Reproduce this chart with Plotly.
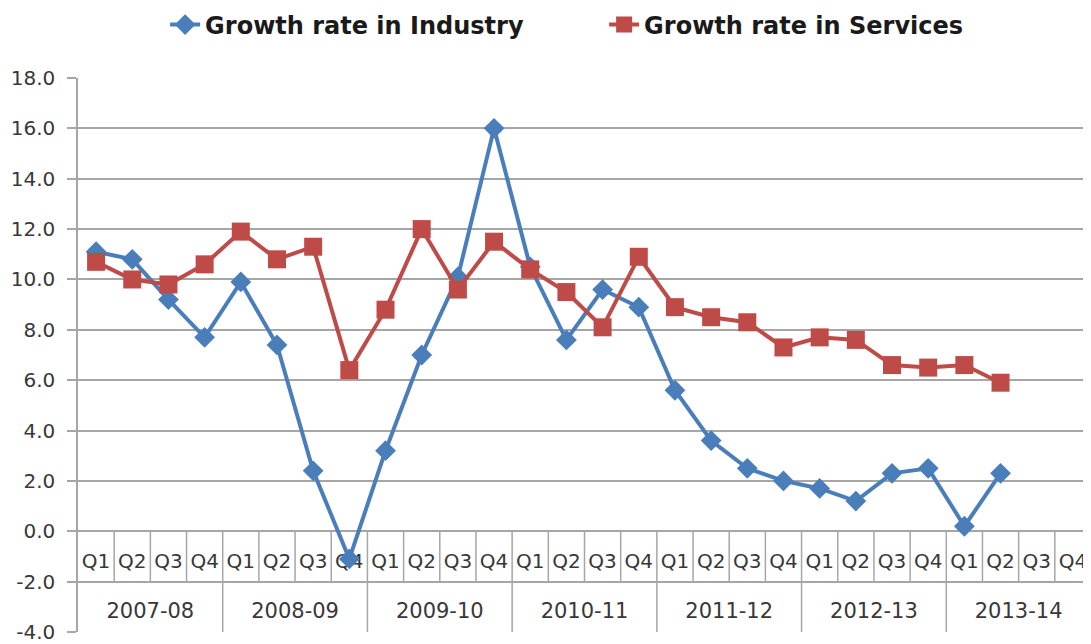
import plotly.graph_objects as go

years = ["2007-08", "2008-09", "2009-10", "2010-11", "2011-12", "2012-13", "2013-14"]
quarters = ["Q1", "Q2", "Q3", "Q4"]

industry = [11.1, 10.8, 9.2, 7.7,
            9.9, 7.4, 2.4, -1.1,
            3.2, 7.0, 10.1, 16.0,
            10.5, 7.6, 9.6, 8.9,
            5.6, 3.6, 2.5, 2.0,
            1.7, 1.2, 2.3, 2.5,
            0.2, 2.3, None, None]
services = [10.7, 10.0, 9.8, 10.6,
            11.9, 10.8, 11.3, 6.4,
            8.8, 12.0, 9.6, 11.5,
            10.4, 9.5, 8.1, 10.9,
            8.9, 8.5, 8.3, 7.3,
            7.7, 7.6, 6.6, 6.5,
            6.6, 5.9, None, None]

y_ticks = [-4, -2, 0, 2, 4, 6, 8, 10, 12, 14, 16, 18]
y_ticktext = ["-4.0", "-2.0", "0.0", "2.0", "4.0", "6.0", "8.0", "10.0",
              "12.0", "14.0", "16.0", "18.0"]

n = len(years) * len(quarters)
xs = list(range(n))
q_labels = [q for _ in years for q in quarters]

BLUE = "#4A7EBB"
RED = "#BE4B48"
GRID = "#A6A6A6"
TXT = "#383838"
FONT = "DejaVu Sans, sans-serif"

fig = go.Figure()

# category table text (drawn beneath the data lines)
fig.add_trace(go.Scatter(
    x=xs, y=[-1.25] * n, mode="text", text=q_labels,
    textfont=dict(family=FONT, size=20, color=TXT),
    showlegend=False, hoverinfo="skip", cliponaxis=False))
fig.add_trace(go.Scatter(
    x=[i * 4 + 1.5 for i in range(len(years))], y=[-3.25] * len(years),
    mode="text", text=years,
    textfont=dict(family=FONT, size=21, color=TXT),
    showlegend=False, hoverinfo="skip", cliponaxis=False))

fig.add_trace(go.Scatter(
    x=xs, y=industry, mode="lines+markers", name="Growth rate in Industry",
    line=dict(color=BLUE, width=4),
    marker=dict(symbol="diamond", size=16, color=BLUE),
    cliponaxis=False))
fig.add_trace(go.Scatter(
    x=xs, y=services, mode="lines+markers", name="Growth rate in Services",
    line=dict(color=RED, width=4),
    marker=dict(symbol="square", size=18, color=RED),
    cliponaxis=False))

shapes = []
for i in range(1, n):
    is_year = (i % 4 == 0)
    shapes.append(dict(
        type="line", xref="x", yref="y", layer="below",
        x0=i - 0.5, x1=i - 0.5, y0=0, y1=-4 if is_year else -2,
        line=dict(color=GRID, width=1.5)))

fig.update_layout(
    width=1083, height=636,
    margin=dict(l=70, r=0, t=70, b=12, autoexpand=False),
    paper_bgcolor="white", plot_bgcolor="white",
    shapes=shapes,
    showlegend=True,
    legend=dict(orientation="h", x=0.086, xanchor="left", y=1.0957, yanchor="middle",
                font=dict(family=FONT, size=24, color="#1a1a1a", weight="bold"),
                bgcolor="rgba(0,0,0,0)", entrywidth=394, entrywidthmode="pixels"),
    xaxis=dict(range=[-0.5, n - 0.5], showgrid=False, zeroline=False,
               showticklabels=False, ticks="", showline=False, fixedrange=True),
    yaxis=dict(range=[-4, 18], tickvals=y_ticks, ticktext=y_ticktext,
               showgrid=True, gridcolor=GRID, gridwidth=1.5,
               zeroline=False, showline=True, linecolor=GRID, linewidth=1.5,
               ticks="outside", ticklen=9, tickcolor=GRID, tickwidth=1.5,
               ticklabelstandoff=8,
               tickfont=dict(family=FONT, size=20, color=TXT)),
)

fig.write_html("out.html")
